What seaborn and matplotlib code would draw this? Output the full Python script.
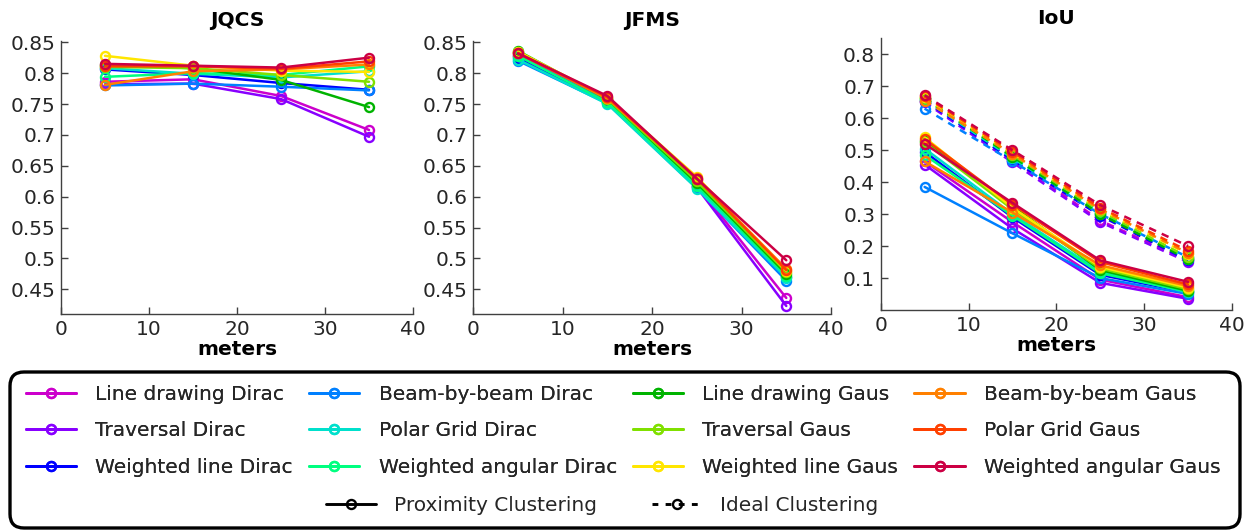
import numpy as np
import pandas as pd
import matplotlib
matplotlib.use("Agg")
import matplotlib.pyplot as plt
from matplotlib.lines import Line2D
from matplotlib.patches import FancyBboxPatch
from matplotlib.ticker import FuncFormatter
from matplotlib.transforms import IdentityTransform
import seaborn as sns

# ---------------- data ----------------
meters = [5, 15, 25, 35]

methods = [
    "Line drawing Dirac", "Traversal Dirac", "Weighted line Dirac",
    "Beam-by-beam Dirac", "Polar Grid Dirac", "Weighted angular Dirac",
    "Line drawing Gaus", "Traversal Gaus", "Weighted line Gaus",
    "Beam-by-beam Gaus", "Polar Grid Gaus", "Weighted angular Gaus",
]

colors = [
    "#CC00CC", "#8800FF", "#0000FF",
    "#0080FF", "#00E0CC", "#00FF80",
    "#00B300", "#80E000", "#FFE600",
    "#FF8000", "#FF4000", "#CC0044",
]

jqcs = [
    [0.786, 0.790, 0.763, 0.708],
    [0.782, 0.783, 0.758, 0.697],
    [0.806, 0.797, 0.784, 0.773],
    [0.780, 0.783, 0.778, 0.772],
    [0.808, 0.799, 0.793, 0.803],
    [0.794, 0.800, 0.797, 0.811],
    [0.813, 0.808, 0.789, 0.745],
    [0.810, 0.808, 0.797, 0.786],
    [0.828, 0.812, 0.804, 0.802],
    [0.781, 0.803, 0.806, 0.814],
    [0.811, 0.811, 0.807, 0.819],
    [0.815, 0.812, 0.809, 0.825],
]

jfms = [
    [0.830, 0.757, 0.618, 0.436],
    [0.828, 0.756, 0.615, 0.423],
    [0.824, 0.753, 0.617, 0.470],
    [0.820, 0.751, 0.614, 0.464],
    [0.822, 0.750, 0.613, 0.469],
    [0.828, 0.753, 0.618, 0.472],
    [0.836, 0.758, 0.622, 0.475],
    [0.834, 0.758, 0.625, 0.478],
    [0.835, 0.760, 0.632, 0.480],
    [0.833, 0.759, 0.630, 0.483],
    [0.832, 0.761, 0.629, 0.481],
    [0.832, 0.763, 0.629, 0.497],
]

iou_proximity = [
    [0.465, 0.275, 0.095, 0.040],
    [0.455, 0.255, 0.085, 0.035],
    [0.495, 0.290, 0.110, 0.055],
    [0.385, 0.240, 0.100, 0.050],
    [0.505, 0.300, 0.120, 0.055],
    [0.485, 0.295, 0.115, 0.058],
    [0.530, 0.325, 0.125, 0.060],
    [0.525, 0.315, 0.130, 0.065],
    [0.540, 0.320, 0.135, 0.070],
    [0.465, 0.305, 0.140, 0.075],
    [0.535, 0.330, 0.150, 0.080],
    [0.520, 0.335, 0.155, 0.088],
]

iou_ideal = [
    [0.655, 0.470, 0.280, 0.155],
    [0.650, 0.462, 0.275, 0.150],
    [0.655, 0.470, 0.295, 0.155],
    [0.630, 0.465, 0.300, 0.165],
    [0.658, 0.475, 0.305, 0.160],
    [0.660, 0.478, 0.305, 0.162],
    [0.662, 0.480, 0.300, 0.158],
    [0.663, 0.485, 0.310, 0.165],
    [0.665, 0.490, 0.315, 0.175],
    [0.655, 0.488, 0.315, 0.178],
    [0.668, 0.495, 0.320, 0.185],
    [0.672, 0.500, 0.328, 0.200],
]

titles = ["JQCS", "JFMS", "IoU"]
xlabel = "meters"
x_ticks = [0, 10, 20, 30, 40]
y_ticks_12 = [0.45, 0.5, 0.55, 0.6, 0.65, 0.7, 0.75, 0.8, 0.85]
y_ticks_3 = [0.1, 0.2, 0.3, 0.4, 0.5, 0.6, 0.7, 0.8]

# ---------------- style ----------------
sns.set_theme(style="white")
plt.rcParams["font.family"] = ["DejaVu Sans"]
FS = 14.5
TXT = "#262626"
LW = 1.8
MS = 6.5
MEW = 1.7

fig = plt.figure(figsize=(12.5, 5.32), dpi=100)
W, H = 1250, 532


def axrect(l, r, t, b):
    return [l / W, 1 - b / H, (r - l) / W, (b - t) / H]


ax1 = fig.add_axes(axrect(61, 413, 41, 314))
ax2 = fig.add_axes(axrect(473.3, 831, 41, 314))
ax3 = fig.add_axes(axrect(880.7, 1232, 38.3, 310))
axes = [ax1, ax2, ax3]


def draw(ax, series, ls="-"):
    for vals, c in zip(series, colors):
        sns.lineplot(x=meters, y=vals, ax=ax, color=c, linewidth=LW,
                     linestyle=ls, marker="o", markersize=MS,
                     markerfacecolor="none", markeredgecolor=c,
                     markeredgewidth=MEW, legend=False)


draw(ax1, jqcs)
draw(ax2, jfms)
draw(ax3, iou_ideal, ls=(0, (3, 2.5)))
draw(ax3, iou_proximity)

fmt = FuncFormatter(lambda v, p: "%g" % round(v, 3))
title_pads = [11, 11, 10]
for i, ax in enumerate(axes):
    ax.set_xlim(0, 40)
    ax.set_xticks(x_ticks)
    if i < 2:
        ax.set_ylim(0.41, 0.852)
        ax.set_yticks(y_ticks_12)
    else:
        ax.set_ylim(0.0, 0.85)
        ax.set_yticks(y_ticks_3)
    ax.yaxis.set_major_formatter(fmt)
    ax.xaxis.set_major_formatter(fmt)
    for s in ["top", "right"]:
        ax.spines[s].set_visible(False)
    for s in ["left", "bottom"]:
        ax.spines[s].set_color("#404040")
        ax.spines[s].set_linewidth(1.0)
    ax.tick_params(direction="in", length=5, width=1.0, color="#404040",
                   labelsize=FS, labelcolor=TXT, pad=4,
                   left=True, bottom=True)
    ax.set_title(titles[i], fontsize=FS, fontweight="bold", color="black",
                 pad=title_pads[i])
    ax.set_xlabel(xlabel, fontsize=FS, fontweight="bold", color="black", labelpad=1)
    ax.set_ylabel("")
    ax.set_facecolor("white")

# ---------------- legend ----------------
handles = [Line2D([], [], color=c, lw=LW + 0.3, marker="o", markersize=MS,
                  markerfacecolor="none", markeredgecolor=c, markeredgewidth=MEW)
           for c in colors]
leg1 = fig.legend(handles, methods, ncol=4, loc="upper left",
                  bbox_to_anchor=(26 / W, 1 - 385 / H), frameon=False,
                  fontsize=FS, handlelength=2.5, handletextpad=0.95,
                  columnspacing=0.8, labelspacing=0.86, borderpad=0,
                  borderaxespad=0)

style_handles = [
    Line2D([], [], color="black", lw=LW + 0.3, marker="o", markersize=MS,
           markerfacecolor="none", markeredgecolor="black", markeredgewidth=MEW),
    Line2D([], [], color="black", lw=LW + 0.3, linestyle=(0, (2, 2.5)), marker="o",
           markersize=MS, markerfacecolor="none", markeredgecolor="black",
           markeredgewidth=MEW),
]
leg2 = fig.legend(style_handles, ["Proximity Clustering", "Ideal Clustering"],
                  ncol=2, loc="upper left", bbox_to_anchor=(326 / W, 1 - 496 / H),
                  frameon=False, fontsize=FS, handlelength=2.5,
                  handletextpad=0.9, columnspacing=2.7, borderpad=0,
                  borderaxespad=0)
fig.add_artist(leg1)

frame = FancyBboxPatch((10 + 14, H - 528 + 14), 1230 - 28, 156 - 28,
                       boxstyle="round,pad=14", transform=IdentityTransform(),
                       facecolor="none", edgecolor="black", linewidth=2.4)
fig.add_artist(frame)

fig.savefig("out.png", dpi=100)
